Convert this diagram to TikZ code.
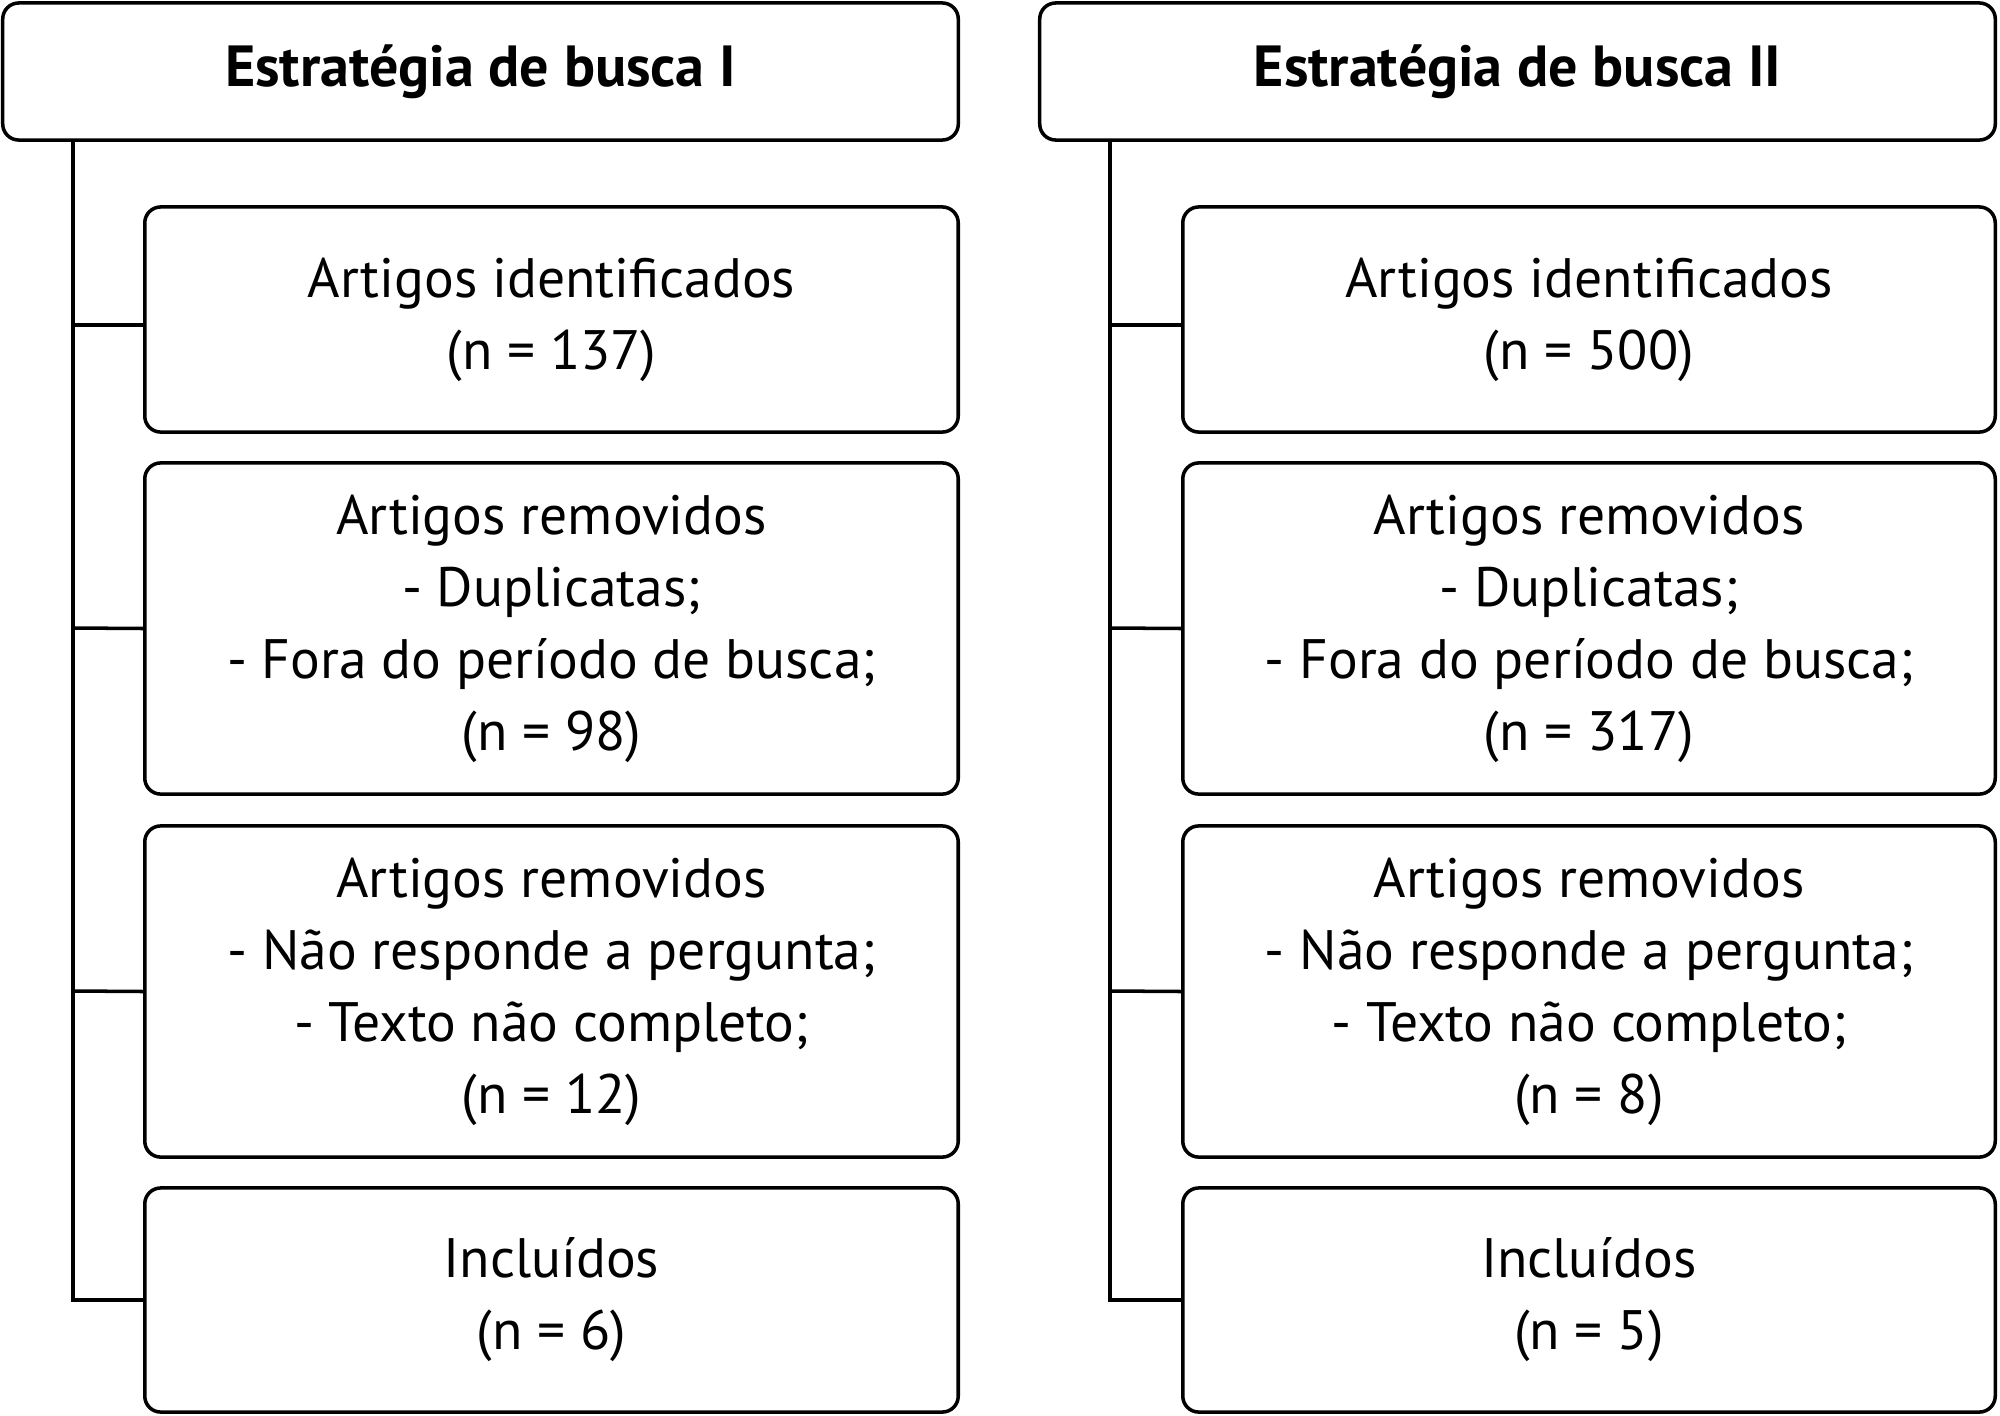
\documentclass[tikz,border=0pt]{standalone}
\usepackage{fontspec}
\setmainfont{PT Sans}
\usetikzlibrary{positioning}
\begin{document}
\begin{tikzpicture}[x=0.01cm,y=-0.01cm,inner sep=0pt]
\tikzstyle{box}=[rectangle, rounded corners=0.16cm, draw=black, line width=1pt, align=center, font=\fontsize{15.8}{20.5}\selectfont]
\tikzstyle{head}=[box, font=\fontsize{16.5}{20.5}\selectfont\bfseries]
\tikzstyle{tree}=[line width=1pt]
\useasboundingbox (0,0) rectangle (2000,1415);
% coluna I
\node[head,minimum width=9.55cm,minimum height=1.37cm] (hI) at (480.5,71.5) {Estratégia de busca I};
\node[box,minimum width=8.13cm,minimum height=2.25cm] (aI) at (551.5,319.5) {Artigos identificados\\(n = 137)};
\node[box,minimum width=8.13cm,minimum height=3.31cm] (bI) at (551.5,628.5) {Artigos removidos\\- Duplicatas;\\- Fora do período de busca;\\(n = 98)};
\node[box,minimum width=8.13cm,minimum height=3.31cm] (cI) at (551.5,991.5) {Artigos removidos\\- Não responde a pergunta;\\- Texto não completo;\\(n = 12)};
\node[box,minimum width=8.13cm,minimum height=2.24cm] (dI) at (551.5,1300) {Incluídos\\(n = 6)};
\coordinate (tI) at (73,140);
\draw[tree] (tI) -- (73,1300) -- (dI.west);
\draw[tree] (73,325) -- (aI.west |- 0,325);
\draw[tree] (73,628) -- (bI.west);
\draw[tree] (73,991) -- (cI.west);
% coluna II
\node[head,minimum width=9.55cm,minimum height=1.37cm] (hII) at (1517.5,71.5) {Estratégia de busca II};
\node[box,minimum width=8.12cm,minimum height=2.25cm] (aII) at (1589,319.5) {Artigos identificados\\(n = 500)};
\node[box,minimum width=8.12cm,minimum height=3.31cm] (bII) at (1589,628.5) {Artigos removidos\\- Duplicatas;\\- Fora do período de busca;\\(n = 317)};
\node[box,minimum width=8.12cm,minimum height=3.31cm] (cII) at (1589,991.5) {Artigos removidos\\- Não responde a pergunta;\\- Texto não completo;\\(n = 8)};
\node[box,minimum width=8.12cm,minimum height=2.24cm] (dII) at (1589,1300) {Incluídos\\(n = 5)};
\coordinate (tII) at (1110,140);
\draw[tree] (tII) -- (1110,1300) -- (dII.west);
\draw[tree] (1110,325) -- (aII.west |- 0,325);
\draw[tree] (1110,628) -- (bII.west);
\draw[tree] (1110,991) -- (cII.west);
\end{tikzpicture}
\end{document}
